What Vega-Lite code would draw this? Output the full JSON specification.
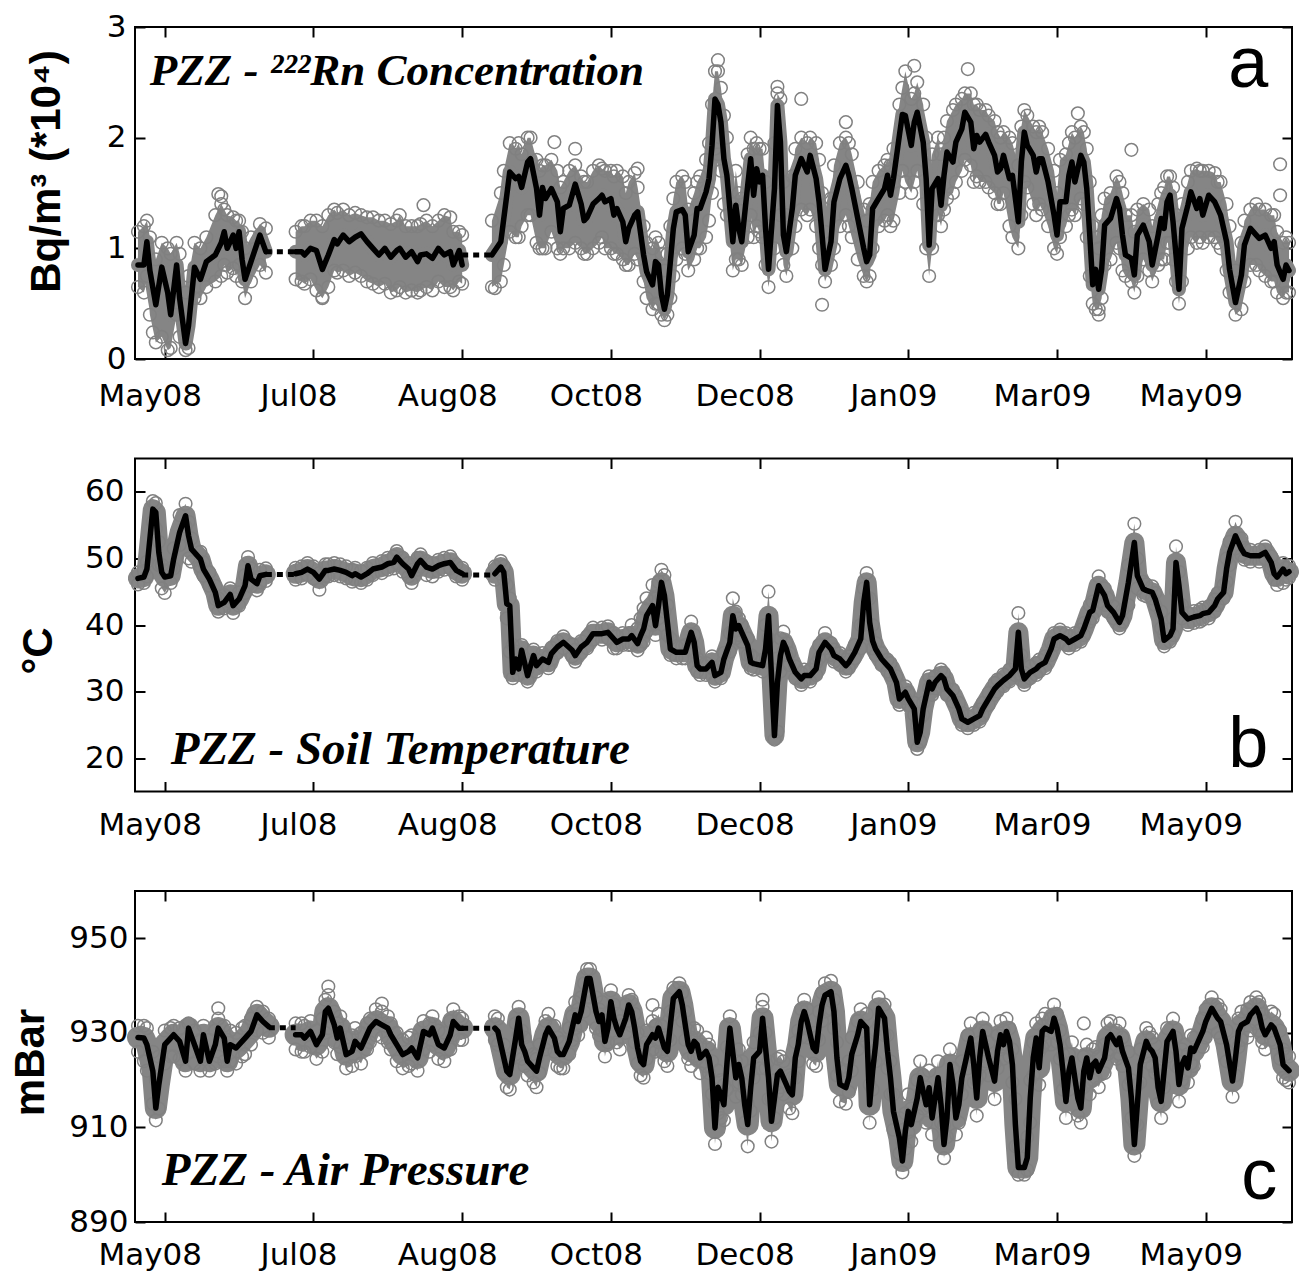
{
"$schema":"https://vega.github.io/schema/vega-lite/v6.json",
"autosize":{"type":"pad"},
"padding":{"left":8,"top":10,"right":0,"bottom":0},
"background":"white",
"spacing":99.5,
"bounds":"flush",
"config":{"view":{"stroke":"black","strokeWidth":2},"axis":{"domain":false,"grid":false,"tickColor":"black","tickWidth":2,"tickSize":-10,"labelColor":"black","labelFont":"DejaVu Sans","labelFontSize":31,"titleColor":"black"}},
"datasets":{
"rn":[
{"s":1,"d":"2008-05-11","v":0.85,"lo":0.65,"hi":1.15},{"s":1,"d":"2008-05-13","v":0.85,"lo":0.6,"hi":1.2},{"s":1,"d":"2008-05-14","v":1.06,"lo":0.75,"hi":1.25},{"s":1,"d":"2008-05-15","v":0.8,"lo":0.4,"hi":1.1},{"s":1,"d":"2008-05-17","v":0.49,"lo":0.15,"hi":0.9},{"s":1,"d":"2008-05-19","v":0.83,"lo":0.2,"hi":1.05},{"s":1,"d":"2008-05-21","v":0.6,"lo":0.08,"hi":1.0},{"s":1,"d":"2008-05-22","v":0.4,"lo":0.1,"hi":0.95},{"s":1,"d":"2008-05-24","v":0.85,"lo":0.4,"hi":1.05},{"s":1,"d":"2008-05-25","v":0.55,"lo":0.2,"hi":0.95},{"s":1,"d":"2008-05-27","v":0.14,"lo":0.08,"hi":0.6},{"s":1,"d":"2008-05-28","v":0.3,"lo":0.1,"hi":0.75},{"s":1,"d":"2008-05-30","v":0.83,"lo":0.55,"hi":1.05},{"s":1,"d":"2008-06-01","v":0.72,"lo":0.55,"hi":1.0},{"s":1,"d":"2008-06-03","v":0.88,"lo":0.65,"hi":1.1},{"s":1,"d":"2008-06-06","v":0.94,"lo":0.7,"hi":1.3},{"s":1,"d":"2008-06-08","v":1.05,"lo":0.75,"hi":1.4},{"s":1,"d":"2008-06-09","v":1.15,"lo":0.85,"hi":1.35},{"s":1,"d":"2008-06-10","v":1.0,"lo":0.78,"hi":1.3},{"s":1,"d":"2008-06-12","v":1.12,"lo":0.82,"hi":1.28},{"s":1,"d":"2008-06-13","v":1.0,"lo":0.75,"hi":1.25},{"s":1,"d":"2008-06-14","v":1.15,"lo":0.85,"hi":1.25},{"s":1,"d":"2008-06-15","v":0.9,"lo":0.7,"hi":1.15},{"s":1,"d":"2008-06-16","v":0.72,"lo":0.55,"hi":1.0},{"s":1,"d":"2008-06-18","v":0.88,"lo":0.7,"hi":1.1},{"s":1,"d":"2008-06-21","v":1.12,"lo":0.85,"hi":1.22},{"s":1,"d":"2008-06-23","v":0.97,"lo":0.78,"hi":1.18},
{"s":2,"d":"2008-07-03","v":0.97,"lo":0.72,"hi":1.15},{"s":2,"d":"2008-07-05","v":0.97,"lo":0.7,"hi":1.2},{"s":2,"d":"2008-07-06","v":0.94,"lo":0.68,"hi":1.2},{"s":2,"d":"2008-07-08","v":1.0,"lo":0.72,"hi":1.25},{"s":2,"d":"2008-07-10","v":0.98,"lo":0.62,"hi":1.25},{"s":2,"d":"2008-07-12","v":0.81,"lo":0.55,"hi":1.2},{"s":2,"d":"2008-07-14","v":0.94,"lo":0.65,"hi":1.3},{"s":2,"d":"2008-07-16","v":1.08,"lo":0.8,"hi":1.35},{"s":2,"d":"2008-07-17","v":1.04,"lo":0.78,"hi":1.32},{"s":2,"d":"2008-07-19","v":1.12,"lo":0.8,"hi":1.35},{"s":2,"d":"2008-07-21","v":1.06,"lo":0.75,"hi":1.3},{"s":2,"d":"2008-07-23","v":1.1,"lo":0.78,"hi":1.32},{"s":2,"d":"2008-07-25","v":1.13,"lo":0.75,"hi":1.3},{"s":2,"d":"2008-07-27","v":1.06,"lo":0.7,"hi":1.28},{"s":2,"d":"2008-07-29","v":1.0,"lo":0.68,"hi":1.28},{"s":2,"d":"2008-07-31","v":0.94,"lo":0.65,"hi":1.25},{"s":2,"d":"2008-08-02","v":1.0,"lo":0.68,"hi":1.25},{"s":2,"d":"2008-08-04","v":0.92,"lo":0.6,"hi":1.22},{"s":2,"d":"2008-08-06","v":0.98,"lo":0.62,"hi":1.25},{"s":2,"d":"2008-08-07","v":1.0,"lo":0.65,"hi":1.3},{"s":2,"d":"2008-08-09","v":0.92,"lo":0.6,"hi":1.2},{"s":2,"d":"2008-08-11","v":0.97,"lo":0.62,"hi":1.2},{"s":2,"d":"2008-08-13","v":0.88,"lo":0.6,"hi":1.2},{"s":2,"d":"2008-08-14","v":0.94,"lo":0.62,"hi":1.22},{"s":2,"d":"2008-08-16","v":0.95,"lo":0.65,"hi":1.25},{"s":2,"d":"2008-08-18","v":0.91,"lo":0.62,"hi":1.2},{"s":2,"d":"2008-08-20","v":1.0,"lo":0.7,"hi":1.25},{"s":2,"d":"2008-08-22","v":0.94,"lo":0.65,"hi":1.3},{"s":2,"d":"2008-08-24","v":0.97,"lo":0.65,"hi":1.28},{"s":2,"d":"2008-08-25","v":0.85,"lo":0.62,"hi":1.15},{"s":2,"d":"2008-08-27","v":0.98,"lo":0.7,"hi":1.15},{"s":2,"d":"2008-08-28","v":0.85,"lo":0.68,"hi":1.12},
{"s":3,"d":"2008-09-07","v":0.94,"lo":0.65,"hi":1.25},{"s":3,"d":"2008-09-10","v":1.06,"lo":0.7,"hi":1.5},{"s":3,"d":"2008-09-11","v":1.27,"lo":0.85,"hi":1.7},{"s":3,"d":"2008-09-13","v":1.69,"lo":1.15,"hi":1.95},{"s":3,"d":"2008-09-15","v":1.63,"lo":1.1,"hi":1.9},{"s":3,"d":"2008-09-16","v":1.65,"lo":1.1,"hi":1.95},{"s":3,"d":"2008-09-17","v":1.55,"lo":1.2,"hi":1.85},{"s":3,"d":"2008-09-19","v":1.78,"lo":1.3,"hi":2.0},{"s":3,"d":"2008-09-20","v":1.81,"lo":1.3,"hi":2.0},{"s":3,"d":"2008-09-22","v":1.54,"lo":1.05,"hi":1.8},{"s":3,"d":"2008-09-23","v":1.3,"lo":1.0,"hi":1.7},{"s":3,"d":"2008-09-24","v":1.55,"lo":1.0,"hi":1.75},{"s":3,"d":"2008-09-25","v":1.45,"lo":1.0,"hi":1.75},{"s":3,"d":"2008-09-27","v":1.54,"lo":1.15,"hi":1.8},{"s":3,"d":"2008-09-29","v":1.42,"lo":1.0,"hi":1.7},{"s":3,"d":"2008-09-30","v":1.15,"lo":0.95,"hi":1.55},{"s":3,"d":"2008-10-01","v":1.36,"lo":1.0,"hi":1.6},{"s":3,"d":"2008-10-03","v":1.39,"lo":1.0,"hi":1.7},{"s":3,"d":"2008-10-05","v":1.58,"lo":1.05,"hi":1.75},{"s":3,"d":"2008-10-07","v":1.4,"lo":1.0,"hi":1.65},{"s":3,"d":"2008-10-08","v":1.25,"lo":0.95,"hi":1.6},{"s":3,"d":"2008-10-09","v":1.28,"lo":0.95,"hi":1.6},{"s":3,"d":"2008-10-11","v":1.4,"lo":1.0,"hi":1.7},{"s":3,"d":"2008-10-13","v":1.45,"lo":1.05,"hi":1.75},{"s":3,"d":"2008-10-14","v":1.48,"lo":1.1,"hi":1.72},{"s":3,"d":"2008-10-15","v":1.42,"lo":1.0,"hi":1.7},{"s":3,"d":"2008-10-17","v":1.45,"lo":1.0,"hi":1.7},{"s":3,"d":"2008-10-18","v":1.3,"lo":0.95,"hi":1.65},{"s":3,"d":"2008-10-19","v":1.36,"lo":0.95,"hi":1.7},{"s":3,"d":"2008-10-21","v":1.24,"lo":0.9,"hi":1.65},{"s":3,"d":"2008-10-22","v":1.06,"lo":0.85,"hi":1.5},{"s":3,"d":"2008-10-23","v":1.18,"lo":0.85,"hi":1.6},{"s":3,"d":"2008-10-25","v":1.3,"lo":0.95,"hi":1.68},{"s":3,"d":"2008-10-26","v":1.33,"lo":0.9,"hi":1.55},{"s":3,"d":"2008-10-28","v":0.94,"lo":0.7,"hi":1.2},{"s":3,"d":"2008-10-29","v":0.79,"lo":0.55,"hi":1.05},{"s":3,"d":"2008-10-31","v":0.67,"lo":0.45,"hi":1.0},{"s":3,"d":"2008-11-01","v":0.88,"lo":0.5,"hi":1.1},{"s":3,"d":"2008-11-02","v":0.85,"lo":0.5,"hi":1.05},{"s":3,"d":"2008-11-03","v":0.58,"lo":0.4,"hi":0.95},{"s":3,"d":"2008-11-04","v":0.45,"lo":0.35,"hi":0.8},{"s":3,"d":"2008-11-05","v":0.58,"lo":0.4,"hi":0.95},{"s":3,"d":"2008-11-06","v":0.88,"lo":0.55,"hi":1.2},{"s":3,"d":"2008-11-07","v":1.18,"lo":0.75,"hi":1.45},{"s":3,"d":"2008-11-08","v":1.33,"lo":0.9,"hi":1.6},{"s":3,"d":"2008-11-10","v":1.35,"lo":1.0,"hi":1.65},{"s":3,"d":"2008-11-11","v":1.3,"lo":0.95,"hi":1.6},{"s":3,"d":"2008-11-12","v":0.97,"lo":0.8,"hi":1.35},{"s":3,"d":"2008-11-14","v":1.12,"lo":0.9,"hi":1.5},{"s":3,"d":"2008-11-15","v":1.36,"lo":1.0,"hi":1.6},{"s":3,"d":"2008-11-16","v":1.36,"lo":1.0,"hi":1.65},{"s":3,"d":"2008-11-18","v":1.51,"lo":1.1,"hi":1.8},{"s":3,"d":"2008-11-19","v":1.63,"lo":1.25,"hi":1.95},{"s":3,"d":"2008-11-20","v":1.93,"lo":1.5,"hi":2.3},{"s":3,"d":"2008-11-21","v":2.35,"lo":1.9,"hi":2.6},{"s":3,"d":"2008-11-22","v":2.3,"lo":1.85,"hi":2.6},{"s":3,"d":"2008-11-23","v":2.14,"lo":1.7,"hi":2.45},{"s":3,"d":"2008-11-24","v":1.81,"lo":1.4,"hi":2.2},{"s":3,"d":"2008-11-25","v":1.66,"lo":1.3,"hi":2.0},{"s":3,"d":"2008-11-27","v":1.06,"lo":0.8,"hi":1.4},{"s":3,"d":"2008-11-28","v":1.39,"lo":0.9,"hi":1.7},{"s":3,"d":"2008-11-29","v":1.18,"lo":0.9,"hi":1.5},{"s":3,"d":"2008-11-30","v":1.06,"lo":0.85,"hi":1.45},{"s":3,"d":"2008-12-02","v":1.57,"lo":1.1,"hi":1.85},{"s":3,"d":"2008-12-03","v":1.81,"lo":1.3,"hi":2.0},{"s":3,"d":"2008-12-04","v":1.48,"lo":1.1,"hi":1.9},{"s":3,"d":"2008-12-05","v":1.72,"lo":1.2,"hi":1.95},{"s":3,"d":"2008-12-06","v":1.6,"lo":1.15,"hi":1.9},{"s":3,"d":"2008-12-07","v":1.66,"lo":1.1,"hi":1.9},{"s":3,"d":"2008-12-08","v":1.18,"lo":0.85,"hi":1.6},{"s":3,"d":"2008-12-09","v":0.81,"lo":0.65,"hi":1.2},{"s":3,"d":"2008-12-11","v":1.54,"lo":1.0,"hi":1.95},{"s":3,"d":"2008-12-12","v":2.29,"lo":1.6,"hi":2.4},{"s":3,"d":"2008-12-13","v":1.96,"lo":1.3,"hi":2.35},{"s":3,"d":"2008-12-14","v":1.12,"lo":0.85,"hi":1.6},{"s":3,"d":"2008-12-15","v":0.97,"lo":0.75,"hi":1.3},{"s":3,"d":"2008-12-17","v":1.36,"lo":1.0,"hi":1.65},{"s":3,"d":"2008-12-18","v":1.66,"lo":1.2,"hi":1.9},{"s":3,"d":"2008-12-20","v":1.81,"lo":1.35,"hi":2.0},{"s":3,"d":"2008-12-22","v":1.69,"lo":1.3,"hi":1.95},{"s":3,"d":"2008-12-23","v":1.84,"lo":1.35,"hi":2.0},{"s":3,"d":"2008-12-25","v":1.63,"lo":1.2,"hi":1.95},{"s":3,"d":"2008-12-26","v":1.42,"lo":1.0,"hi":1.8},{"s":3,"d":"2008-12-27","v":1.12,"lo":0.85,"hi":1.5},{"s":3,"d":"2008-12-28","v":0.81,"lo":0.7,"hi":1.15},{"s":3,"d":"2008-12-30","v":1.06,"lo":0.85,"hi":1.45},{"s":3,"d":"2008-12-31","v":1.42,"lo":1.0,"hi":1.75},{"s":3,"d":"2009-01-02","v":1.63,"lo":1.2,"hi":1.95},{"s":3,"d":"2009-01-04","v":1.75,"lo":1.3,"hi":2.0},{"s":3,"d":"2009-01-05","v":1.66,"lo":1.2,"hi":1.95},{"s":3,"d":"2009-01-06","v":1.54,"lo":1.1,"hi":1.85},{"s":3,"d":"2009-01-08","v":1.27,"lo":0.9,"hi":1.6},{"s":3,"d":"2009-01-10","v":1.0,"lo":0.75,"hi":1.35},{"s":3,"d":"2009-01-11","v":0.88,"lo":0.7,"hi":1.25},{"s":3,"d":"2009-01-12","v":0.94,"lo":0.75,"hi":1.4},{"s":3,"d":"2009-01-13","v":1.36,"lo":1.0,"hi":1.6},{"s":3,"d":"2009-01-15","v":1.45,"lo":1.2,"hi":1.7},{"s":3,"d":"2009-01-17","v":1.54,"lo":1.25,"hi":1.75},{"s":3,"d":"2009-01-18","v":1.66,"lo":1.3,"hi":1.8},{"s":3,"d":"2009-01-19","v":1.48,"lo":1.2,"hi":1.75},{"s":3,"d":"2009-01-20","v":1.63,"lo":1.25,"hi":1.9},{"s":3,"d":"2009-01-22","v":2.02,"lo":1.5,"hi":2.3},{"s":3,"d":"2009-01-23","v":2.21,"lo":1.7,"hi":2.45},{"s":3,"d":"2009-01-24","v":2.2,"lo":1.6,"hi":2.6},{"s":3,"d":"2009-01-26","v":1.93,"lo":1.5,"hi":2.35},{"s":3,"d":"2009-01-27","v":2.14,"lo":1.6,"hi":2.4},{"s":3,"d":"2009-01-28","v":2.23,"lo":1.7,"hi":2.5},{"s":3,"d":"2009-01-30","v":1.96,"lo":1.4,"hi":2.3},{"s":3,"d":"2009-01-31","v":1.63,"lo":1.0,"hi":2.0},{"s":3,"d":"2009-02-01","v":1.03,"lo":0.75,"hi":1.5},{"s":3,"d":"2009-02-02","v":1.54,"lo":1.0,"hi":1.85},{"s":3,"d":"2009-02-04","v":1.63,"lo":1.3,"hi":2.0},{"s":3,"d":"2009-02-05","v":1.39,"lo":1.2,"hi":1.85},{"s":3,"d":"2009-02-06","v":1.66,"lo":1.35,"hi":2.0},{"s":3,"d":"2009-02-07","v":1.87,"lo":1.45,"hi":2.15},{"s":3,"d":"2009-02-09","v":1.78,"lo":1.5,"hi":2.25},{"s":3,"d":"2009-02-10","v":1.96,"lo":1.6,"hi":2.3},{"s":3,"d":"2009-02-12","v":2.08,"lo":1.7,"hi":2.35},{"s":3,"d":"2009-02-13","v":2.23,"lo":1.8,"hi":2.4},{"s":3,"d":"2009-02-15","v":2.14,"lo":1.75,"hi":2.4},{"s":3,"d":"2009-02-16","v":1.9,"lo":1.6,"hi":2.3},{"s":3,"d":"2009-02-17","v":2.02,"lo":1.65,"hi":2.3},{"s":3,"d":"2009-02-18","v":1.96,"lo":1.6,"hi":2.25},{"s":3,"d":"2009-02-20","v":2.03,"lo":1.6,"hi":2.25},{"s":3,"d":"2009-02-21","v":1.96,"lo":1.55,"hi":2.2},{"s":3,"d":"2009-02-23","v":1.84,"lo":1.5,"hi":2.15},{"s":3,"d":"2009-02-24","v":1.69,"lo":1.4,"hi":2.05},{"s":3,"d":"2009-02-25","v":1.72,"lo":1.4,"hi":2.0},{"s":3,"d":"2009-02-26","v":1.84,"lo":1.5,"hi":2.05},{"s":3,"d":"2009-02-28","v":1.63,"lo":1.2,"hi":2.0},{"s":3,"d":"2009-03-01","v":1.66,"lo":1.1,"hi":1.95},{"s":3,"d":"2009-03-03","v":1.24,"lo":1.0,"hi":1.75},{"s":3,"d":"2009-03-04","v":1.78,"lo":1.3,"hi":2.1},{"s":3,"d":"2009-03-05","v":2.05,"lo":1.6,"hi":2.25},{"s":3,"d":"2009-03-06","v":1.93,"lo":1.55,"hi":2.2},{"s":3,"d":"2009-03-08","v":1.84,"lo":1.4,"hi":2.1},{"s":3,"d":"2009-03-09","v":1.69,"lo":1.3,"hi":2.05},{"s":3,"d":"2009-03-10","v":1.81,"lo":1.4,"hi":2.1},{"s":3,"d":"2009-03-11","v":1.81,"lo":1.35,"hi":2.05},{"s":3,"d":"2009-03-13","v":1.6,"lo":1.2,"hi":1.9},{"s":3,"d":"2009-03-15","v":1.3,"lo":1.0,"hi":1.7},{"s":3,"d":"2009-03-16","v":1.12,"lo":0.95,"hi":1.5},{"s":3,"d":"2009-03-17","v":1.42,"lo":1.1,"hi":1.8},{"s":3,"d":"2009-03-19","v":1.42,"lo":1.2,"hi":1.85},{"s":3,"d":"2009-03-20","v":1.66,"lo":1.3,"hi":1.95},{"s":3,"d":"2009-03-21","v":1.78,"lo":1.35,"hi":2.05},{"s":3,"d":"2009-03-22","v":1.6,"lo":1.3,"hi":2.0},{"s":3,"d":"2009-03-24","v":1.84,"lo":1.45,"hi":2.1},{"s":3,"d":"2009-03-25","v":1.78,"lo":1.4,"hi":2.05},{"s":3,"d":"2009-03-26","v":1.54,"lo":1.1,"hi":1.9},{"s":3,"d":"2009-03-27","v":1.12,"lo":0.75,"hi":1.6},{"s":3,"d":"2009-03-28","v":0.67,"lo":0.5,"hi":1.2},{"s":3,"d":"2009-03-29","v":0.81,"lo":0.45,"hi":1.1},{"s":3,"d":"2009-03-30","v":0.63,"lo":0.45,"hi":1.0},{"s":3,"d":"2009-03-31","v":0.81,"lo":0.55,"hi":1.3},{"s":3,"d":"2009-04-01","v":1.21,"lo":0.85,"hi":1.45},{"s":3,"d":"2009-04-03","v":1.27,"lo":0.9,"hi":1.5},{"s":3,"d":"2009-04-05","v":1.45,"lo":1.05,"hi":1.65},{"s":3,"d":"2009-04-06","v":1.36,"lo":1.0,"hi":1.6},{"s":3,"d":"2009-04-07","v":1.12,"lo":0.8,"hi":1.5},{"s":3,"d":"2009-04-08","v":0.94,"lo":0.75,"hi":1.3},{"s":3,"d":"2009-04-10","v":0.91,"lo":0.7,"hi":1.3},{"s":3,"d":"2009-04-11","v":0.76,"lo":0.6,"hi":1.15},{"s":3,"d":"2009-04-12","v":1.12,"lo":0.75,"hi":1.35},{"s":3,"d":"2009-04-14","v":1.21,"lo":0.9,"hi":1.4},{"s":3,"d":"2009-04-16","v":1.06,"lo":0.8,"hi":1.35},{"s":3,"d":"2009-04-17","v":0.85,"lo":0.7,"hi":1.2},{"s":3,"d":"2009-04-19","v":1.12,"lo":0.85,"hi":1.4},{"s":3,"d":"2009-04-20","v":1.27,"lo":0.9,"hi":1.5},{"s":3,"d":"2009-04-21","v":1.18,"lo":0.9,"hi":1.55},{"s":3,"d":"2009-04-22","v":1.42,"lo":1.05,"hi":1.65},{"s":3,"d":"2009-04-23","v":1.48,"lo":1.05,"hi":1.65},{"s":3,"d":"2009-04-24","v":1.24,"lo":0.9,"hi":1.55},{"s":3,"d":"2009-04-25","v":0.94,"lo":0.7,"hi":1.3},{"s":3,"d":"2009-04-26","v":0.63,"lo":0.5,"hi":1.05},{"s":3,"d":"2009-04-27","v":1.18,"lo":0.7,"hi":1.4},{"s":3,"d":"2009-04-29","v":1.39,"lo":1.0,"hi":1.6},{"s":3,"d":"2009-04-30","v":1.51,"lo":1.1,"hi":1.7},{"s":3,"d":"2009-05-02","v":1.36,"lo":1.05,"hi":1.72},{"s":3,"d":"2009-05-03","v":1.45,"lo":1.1,"hi":1.7},{"s":3,"d":"2009-05-04","v":1.3,"lo":1.05,"hi":1.7},{"s":3,"d":"2009-05-06","v":1.48,"lo":1.1,"hi":1.7},{"s":3,"d":"2009-05-08","v":1.42,"lo":1.1,"hi":1.68},{"s":3,"d":"2009-05-09","v":1.36,"lo":1.05,"hi":1.6},{"s":3,"d":"2009-05-10","v":1.3,"lo":1.0,"hi":1.6},{"s":3,"d":"2009-05-12","v":1.06,"lo":0.8,"hi":1.4},{"s":3,"d":"2009-05-13","v":0.81,"lo":0.6,"hi":1.2},{"s":3,"d":"2009-05-15","v":0.51,"lo":0.4,"hi":0.8},{"s":3,"d":"2009-05-17","v":0.76,"lo":0.45,"hi":1.05},{"s":3,"d":"2009-05-18","v":1.03,"lo":0.7,"hi":1.25},{"s":3,"d":"2009-05-20","v":1.18,"lo":0.85,"hi":1.35},{"s":3,"d":"2009-05-22","v":1.12,"lo":0.85,"hi":1.4},{"s":3,"d":"2009-05-23","v":1.09,"lo":0.8,"hi":1.35},{"s":3,"d":"2009-05-25","v":1.12,"lo":0.75,"hi":1.35},{"s":3,"d":"2009-05-27","v":1.0,"lo":0.7,"hi":1.3},{"s":3,"d":"2009-05-28","v":1.06,"lo":0.7,"hi":1.3},{"s":3,"d":"2009-05-29","v":0.85,"lo":0.6,"hi":1.15},{"s":3,"d":"2009-05-31","v":0.72,"lo":0.55,"hi":1.05},{"s":3,"d":"2009-06-01","v":0.85,"lo":0.6,"hi":1.1},{"s":3,"d":"2009-06-02","v":0.8,"lo":0.6,"hi":1.05}
],
"rnOut":[{"d":"2009-02-14","v":2.62},{"d":"2009-04-10","v":1.89},{"d":"2009-05-30","v":1.76},{"d":"2009-05-30","v":1.48},{"d":"2009-03-23","v":2.22},{"d":"2009-03-30","v":0.4},{"d":"2008-12-20","v":2.35},{"d":"2008-12-27","v":0.49},{"d":"2008-09-08","v":0.64},{"d":"2008-09-28","v":1.96},{"d":"2008-10-05","v":1.9},{"d":"2008-10-26","v":1.72},{"d":"2008-11-22","v":2.7},{"d":"2008-12-12","v":2.46},{"d":"2009-01-04","v":2.14},{"d":"2009-01-27","v":2.65},{"d":"2008-06-07","v":1.49},{"d":"2008-06-08","v":1.47},{"d":"2008-07-12","v":0.56},{"d":"2008-08-15","v":1.39},{"d":"2008-05-16","v":0.24}],
"tp":[
{"s":1,"d":"2008-05-11","v":47.0,"lo":46.1,"hi":47.9},{"s":1,"d":"2008-05-13","v":47.2,"lo":46.3,"hi":48.1},{"s":1,"d":"2008-05-14","v":48.4,"lo":47.3,"hi":49.5},{"s":1,"d":"2008-05-16","v":57.4,"lo":55.5,"hi":58.6},{"s":1,"d":"2008-05-17","v":56.9,"lo":54.5,"hi":58.3},{"s":1,"d":"2008-05-18","v":50.9,"lo":49.0,"hi":52.5},{"s":1,"d":"2008-05-19","v":47.9,"lo":45.5,"hi":49.0},{"s":1,"d":"2008-05-20","v":47.2,"lo":44.8,"hi":48.1},{"s":1,"d":"2008-05-22","v":47.4,"lo":46.3,"hi":48.5},{"s":1,"d":"2008-05-23","v":49.9,"lo":48.5,"hi":51.5},{"s":1,"d":"2008-05-25","v":53.9,"lo":52.0,"hi":56.5},{"s":1,"d":"2008-05-27","v":56.4,"lo":54.8,"hi":58.2},{"s":1,"d":"2008-05-28","v":53.4,"lo":50.0,"hi":55.5},{"s":1,"d":"2008-05-29","v":51.4,"lo":49.5,"hi":53.0},{"s":1,"d":"2008-06-01","v":49.9,"lo":48.8,"hi":51.0},{"s":1,"d":"2008-06-02","v":48.4,"lo":47.4,"hi":49.4},{"s":1,"d":"2008-06-04","v":46.9,"lo":45.9,"hi":47.9},{"s":1,"d":"2008-06-06","v":44.9,"lo":43.9,"hi":45.9},{"s":1,"d":"2008-06-07","v":42.9,"lo":42.0,"hi":44.0},{"s":1,"d":"2008-06-09","v":43.4,"lo":42.5,"hi":44.5},{"s":1,"d":"2008-06-11","v":44.6,"lo":43.5,"hi":45.5},{"s":1,"d":"2008-06-12","v":42.9,"lo":41.8,"hi":44.0},{"s":1,"d":"2008-06-14","v":43.9,"lo":42.9,"hi":44.9},{"s":1,"d":"2008-06-16","v":45.9,"lo":44.8,"hi":47.5},{"s":1,"d":"2008-06-17","v":48.9,"lo":46.0,"hi":50.2},{"s":1,"d":"2008-06-18","v":46.9,"lo":45.8,"hi":48.5},{"s":1,"d":"2008-06-20","v":46.2,"lo":45.2,"hi":47.2},{"s":1,"d":"2008-06-21","v":47.4,"lo":46.4,"hi":48.3},{"s":1,"d":"2008-06-23","v":47.6,"lo":46.6,"hi":48.5},
{"s":2,"d":"2008-07-03","v":47.7,"lo":46.8,"hi":48.6},{"s":2,"d":"2008-07-05","v":47.9,"lo":47.0,"hi":48.8},{"s":2,"d":"2008-07-07","v":48.4,"lo":47.5,"hi":49.3},{"s":2,"d":"2008-07-09","v":47.9,"lo":47.0,"hi":48.8},{"s":2,"d":"2008-07-11","v":46.9,"lo":45.3,"hi":47.8},{"s":2,"d":"2008-07-13","v":48.2,"lo":47.3,"hi":49.1},{"s":2,"d":"2008-07-14","v":48.2,"lo":47.3,"hi":49.1},{"s":2,"d":"2008-07-16","v":48.4,"lo":47.5,"hi":49.3},{"s":2,"d":"2008-07-18","v":48.2,"lo":47.3,"hi":49.1},{"s":2,"d":"2008-07-20","v":47.9,"lo":47.0,"hi":48.8},{"s":2,"d":"2008-07-22","v":47.4,"lo":46.5,"hi":48.3},{"s":2,"d":"2008-07-23","v":47.7,"lo":46.8,"hi":48.6},{"s":2,"d":"2008-07-25","v":47.2,"lo":46.3,"hi":48.1},{"s":2,"d":"2008-07-27","v":47.7,"lo":46.8,"hi":48.6},{"s":2,"d":"2008-07-29","v":48.4,"lo":47.5,"hi":49.3},{"s":2,"d":"2008-08-01","v":48.7,"lo":47.8,"hi":49.6},{"s":2,"d":"2008-08-03","v":49.2,"lo":48.3,"hi":50.1},{"s":2,"d":"2008-08-05","v":49.4,"lo":48.5,"hi":50.3},{"s":2,"d":"2008-08-06","v":50.2,"lo":49.3,"hi":51.1},{"s":2,"d":"2008-08-08","v":49.2,"lo":48.0,"hi":50.1},{"s":2,"d":"2008-08-10","v":48.4,"lo":47.3,"hi":49.3},{"s":2,"d":"2008-08-11","v":47.4,"lo":46.3,"hi":48.3},{"s":2,"d":"2008-08-13","v":49.2,"lo":48.3,"hi":50.1},{"s":2,"d":"2008-08-14","v":49.7,"lo":48.8,"hi":50.6},{"s":2,"d":"2008-08-16","v":48.7,"lo":47.5,"hi":49.6},{"s":2,"d":"2008-08-18","v":48.4,"lo":47.3,"hi":49.3},{"s":2,"d":"2008-08-20","v":48.9,"lo":48.0,"hi":49.8},{"s":2,"d":"2008-08-22","v":49.2,"lo":48.3,"hi":50.1},{"s":2,"d":"2008-08-24","v":49.4,"lo":48.5,"hi":50.3},{"s":2,"d":"2008-08-26","v":48.2,"lo":47.3,"hi":49.1},{"s":2,"d":"2008-08-28","v":47.7,"lo":46.8,"hi":48.6},
{"s":3,"d":"2008-09-08","v":47.7,"lo":46.8,"hi":48.8},{"s":3,"d":"2008-09-10","v":48.7,"lo":47.7,"hi":49.6},{"s":3,"d":"2008-09-11","v":47.9,"lo":46.9,"hi":48.8},{"s":3,"d":"2008-09-12","v":43.2,"lo":41.0,"hi":46.0},{"s":3,"d":"2008-09-13","v":42.9,"lo":36.0,"hi":44.0},{"s":3,"d":"2008-09-14","v":32.9,"lo":32.0,"hi":37.0},{"s":3,"d":"2008-09-15","v":34.9,"lo":33.5,"hi":36.0},{"s":3,"d":"2008-09-16","v":33.4,"lo":32.5,"hi":34.5},{"s":3,"d":"2008-09-17","v":36.2,"lo":35.2,"hi":37.0},{"s":3,"d":"2008-09-19","v":32.4,"lo":31.5,"hi":33.3},{"s":3,"d":"2008-09-21","v":35.4,"lo":34.5,"hi":36.3},{"s":3,"d":"2008-09-22","v":33.9,"lo":33.0,"hi":34.8},{"s":3,"d":"2008-09-24","v":34.9,"lo":34.0,"hi":35.8},{"s":3,"d":"2008-09-26","v":34.4,"lo":33.5,"hi":35.3},{"s":3,"d":"2008-09-27","v":35.7,"lo":34.8,"hi":36.6},{"s":3,"d":"2008-09-29","v":36.7,"lo":35.8,"hi":37.6},{"s":3,"d":"2008-10-01","v":37.4,"lo":36.5,"hi":38.3},{"s":3,"d":"2008-10-04","v":36.2,"lo":35.3,"hi":37.1},{"s":3,"d":"2008-10-05","v":35.4,"lo":34.5,"hi":36.3},{"s":3,"d":"2008-10-07","v":36.7,"lo":35.8,"hi":37.6},{"s":3,"d":"2008-10-09","v":37.4,"lo":36.5,"hi":38.3},{"s":3,"d":"2008-10-11","v":38.7,"lo":37.8,"hi":39.6},{"s":3,"d":"2008-10-14","v":38.7,"lo":37.8,"hi":39.6},{"s":3,"d":"2008-10-16","v":38.9,"lo":38.0,"hi":39.8},{"s":3,"d":"2008-10-18","v":37.9,"lo":36.5,"hi":38.8},{"s":3,"d":"2008-10-19","v":37.4,"lo":36.5,"hi":38.3},{"s":3,"d":"2008-10-21","v":37.9,"lo":37.0,"hi":38.8},{"s":3,"d":"2008-10-23","v":37.9,"lo":37.0,"hi":38.8},{"s":3,"d":"2008-10-24","v":38.4,"lo":37.0,"hi":40.0},{"s":3,"d":"2008-10-26","v":37.2,"lo":36.2,"hi":39.5},{"s":3,"d":"2008-10-27","v":38.4,"lo":37.0,"hi":41.0},{"s":3,"d":"2008-10-28","v":39.4,"lo":37.5,"hi":42.5},{"s":3,"d":"2008-10-29","v":41.4,"lo":39.0,"hi":44.0},{"s":3,"d":"2008-10-31","v":42.9,"lo":40.0,"hi":46.0},{"s":3,"d":"2008-11-01","v":39.9,"lo":38.5,"hi":44.0},{"s":3,"d":"2008-11-02","v":42.9,"lo":41.0,"hi":46.5},{"s":3,"d":"2008-11-03","v":46.4,"lo":44.0,"hi":48.3},{"s":3,"d":"2008-11-04","v":44.4,"lo":42.0,"hi":47.5},{"s":3,"d":"2008-11-05","v":40.4,"lo":38.5,"hi":43.0},{"s":3,"d":"2008-11-06","v":36.4,"lo":35.5,"hi":38.0},{"s":3,"d":"2008-11-08","v":35.9,"lo":35.0,"hi":36.8},{"s":3,"d":"2008-11-10","v":35.9,"lo":35.0,"hi":36.8},{"s":3,"d":"2008-11-11","v":35.9,"lo":35.0,"hi":37.0},{"s":3,"d":"2008-11-13","v":38.9,"lo":37.5,"hi":40.5},{"s":3,"d":"2008-11-14","v":37.4,"lo":36.0,"hi":38.5},{"s":3,"d":"2008-11-15","v":33.9,"lo":33.0,"hi":35.0},{"s":3,"d":"2008-11-16","v":33.4,"lo":32.5,"hi":34.3},{"s":3,"d":"2008-11-18","v":33.4,"lo":32.5,"hi":34.3},{"s":3,"d":"2008-11-20","v":34.4,"lo":33.5,"hi":35.3},{"s":3,"d":"2008-11-21","v":32.4,"lo":31.5,"hi":33.3},{"s":3,"d":"2008-11-23","v":32.9,"lo":32.0,"hi":33.8},{"s":3,"d":"2008-11-24","v":34.9,"lo":34.0,"hi":35.8},{"s":3,"d":"2008-11-26","v":37.4,"lo":36.0,"hi":38.8},{"s":3,"d":"2008-11-27","v":41.4,"lo":39.0,"hi":44.0},{"s":3,"d":"2008-11-28","v":39.4,"lo":38.0,"hi":42.0},{"s":3,"d":"2008-11-29","v":39.9,"lo":38.5,"hi":41.0},{"s":3,"d":"2008-11-30","v":38.9,"lo":37.5,"hi":40.0},{"s":3,"d":"2008-12-02","v":36.9,"lo":35.5,"hi":38.0},{"s":3,"d":"2008-12-03","v":34.4,"lo":33.5,"hi":35.5},{"s":3,"d":"2008-12-04","v":34.2,"lo":33.3,"hi":35.1},{"s":3,"d":"2008-12-07","v":33.9,"lo":33.0,"hi":34.8},{"s":3,"d":"2008-12-08","v":36.4,"lo":34.5,"hi":40.0},{"s":3,"d":"2008-12-09","v":41.4,"lo":38.0,"hi":45.0},{"s":3,"d":"2008-12-11","v":23.4,"lo":22.8,"hi":32.0},{"s":3,"d":"2008-12-12","v":31.4,"lo":24.0,"hi":35.0},{"s":3,"d":"2008-12-13","v":35.4,"lo":33.0,"hi":38.0},{"s":3,"d":"2008-12-14","v":37.4,"lo":36.0,"hi":39.0},{"s":3,"d":"2008-12-15","v":36.4,"lo":35.5,"hi":37.3},{"s":3,"d":"2008-12-16","v":34.9,"lo":34.0,"hi":35.8},{"s":3,"d":"2008-12-18","v":32.9,"lo":32.0,"hi":33.8},{"s":3,"d":"2008-12-20","v":31.9,"lo":31.0,"hi":32.8},{"s":3,"d":"2008-12-21","v":32.4,"lo":31.5,"hi":33.3},{"s":3,"d":"2008-12-23","v":32.4,"lo":31.5,"hi":33.3},{"s":3,"d":"2008-12-25","v":33.4,"lo":32.5,"hi":34.3},{"s":3,"d":"2008-12-26","v":35.9,"lo":35.0,"hi":37.0},{"s":3,"d":"2008-12-28","v":37.4,"lo":36.5,"hi":38.8},{"s":3,"d":"2008-12-30","v":36.4,"lo":35.5,"hi":37.3},{"s":3,"d":"2008-12-31","v":35.4,"lo":34.5,"hi":36.3},{"s":3,"d":"2009-01-02","v":34.9,"lo":34.0,"hi":35.8},{"s":3,"d":"2009-01-04","v":33.9,"lo":33.0,"hi":34.8},{"s":3,"d":"2009-01-05","v":34.4,"lo":33.5,"hi":35.3},{"s":3,"d":"2009-01-07","v":35.9,"lo":35.0,"hi":37.0},{"s":3,"d":"2009-01-09","v":37.9,"lo":36.5,"hi":40.0},{"s":3,"d":"2009-01-10","v":43.4,"lo":40.0,"hi":45.5},{"s":3,"d":"2009-01-11","v":46.4,"lo":44.0,"hi":47.8},{"s":3,"d":"2009-01-12","v":40.4,"lo":38.5,"hi":44.0},{"s":3,"d":"2009-01-13","v":37.6,"lo":36.5,"hi":40.0},{"s":3,"d":"2009-01-14","v":36.4,"lo":35.5,"hi":37.3},{"s":3,"d":"2009-01-16","v":34.9,"lo":34.0,"hi":35.8},{"s":3,"d":"2009-01-18","v":33.9,"lo":33.0,"hi":34.8},{"s":3,"d":"2009-01-19","v":33.4,"lo":32.5,"hi":34.3},{"s":3,"d":"2009-01-21","v":31.4,"lo":30.5,"hi":32.3},{"s":3,"d":"2009-01-22","v":28.9,"lo":28.0,"hi":29.8},{"s":3,"d":"2009-01-24","v":29.9,"lo":29.0,"hi":30.8},{"s":3,"d":"2009-01-25","v":28.9,"lo":28.0,"hi":29.8},{"s":3,"d":"2009-01-27","v":27.4,"lo":26.5,"hi":28.3},{"s":3,"d":"2009-01-28","v":22.4,"lo":21.4,"hi":25.0},{"s":3,"d":"2009-01-29","v":23.9,"lo":22.5,"hi":26.0},{"s":3,"d":"2009-01-30","v":27.4,"lo":26.5,"hi":28.3},{"s":3,"d":"2009-02-01","v":31.4,"lo":30.5,"hi":32.3},{"s":3,"d":"2009-02-02","v":30.4,"lo":29.5,"hi":31.3},{"s":3,"d":"2009-02-03","v":31.4,"lo":30.5,"hi":32.3},{"s":3,"d":"2009-02-05","v":32.4,"lo":31.5,"hi":33.3},{"s":3,"d":"2009-02-06","v":31.9,"lo":31.0,"hi":32.8},{"s":3,"d":"2009-02-07","v":30.4,"lo":29.5,"hi":31.3},{"s":3,"d":"2009-02-09","v":29.4,"lo":28.5,"hi":30.3},{"s":3,"d":"2009-02-11","v":27.4,"lo":26.5,"hi":28.3},{"s":3,"d":"2009-02-12","v":25.9,"lo":25.0,"hi":26.8},{"s":3,"d":"2009-02-14","v":25.4,"lo":24.5,"hi":26.3},{"s":3,"d":"2009-02-16","v":25.9,"lo":25.0,"hi":26.8},{"s":3,"d":"2009-02-18","v":26.4,"lo":25.5,"hi":27.3},{"s":3,"d":"2009-02-19","v":27.4,"lo":26.5,"hi":28.3},{"s":3,"d":"2009-02-21","v":28.9,"lo":28.0,"hi":29.8},{"s":3,"d":"2009-02-23","v":30.4,"lo":29.5,"hi":31.3},{"s":3,"d":"2009-02-24","v":30.9,"lo":30.0,"hi":31.8},{"s":3,"d":"2009-02-26","v":31.7,"lo":30.8,"hi":32.6},{"s":3,"d":"2009-02-28","v":32.4,"lo":31.5,"hi":33.3},{"s":3,"d":"2009-03-02","v":33.4,"lo":32.5,"hi":34.3},{"s":3,"d":"2009-03-03","v":38.9,"lo":35.0,"hi":41.8},{"s":3,"d":"2009-03-04","v":33.4,"lo":32.5,"hi":35.5},{"s":3,"d":"2009-03-05","v":31.9,"lo":31.0,"hi":32.8},{"s":3,"d":"2009-03-07","v":32.9,"lo":32.0,"hi":33.8},{"s":3,"d":"2009-03-09","v":33.4,"lo":32.5,"hi":34.3},{"s":3,"d":"2009-03-10","v":33.9,"lo":33.0,"hi":34.8},{"s":3,"d":"2009-03-12","v":34.4,"lo":33.5,"hi":35.3},{"s":3,"d":"2009-03-14","v":36.4,"lo":35.5,"hi":37.3},{"s":3,"d":"2009-03-15","v":37.9,"lo":37.0,"hi":38.8},{"s":3,"d":"2009-03-17","v":38.4,"lo":37.5,"hi":39.3},{"s":3,"d":"2009-03-19","v":37.9,"lo":37.0,"hi":38.8},{"s":3,"d":"2009-03-20","v":37.4,"lo":36.5,"hi":38.3},{"s":3,"d":"2009-03-22","v":37.9,"lo":37.0,"hi":38.8},{"s":3,"d":"2009-03-24","v":38.4,"lo":37.5,"hi":39.3},{"s":3,"d":"2009-03-25","v":39.4,"lo":38.5,"hi":40.3},{"s":3,"d":"2009-03-27","v":41.9,"lo":40.5,"hi":43.0},{"s":3,"d":"2009-03-28","v":42.2,"lo":41.0,"hi":43.5},{"s":3,"d":"2009-03-30","v":45.9,"lo":43.5,"hi":47.3},{"s":3,"d":"2009-04-01","v":44.4,"lo":43.0,"hi":45.5},{"s":3,"d":"2009-04-02","v":42.9,"lo":42.0,"hi":44.0},{"s":3,"d":"2009-04-04","v":41.9,"lo":41.0,"hi":42.8},{"s":3,"d":"2009-04-06","v":40.4,"lo":39.5,"hi":41.3},{"s":3,"d":"2009-04-07","v":41.4,"lo":40.5,"hi":42.3},{"s":3,"d":"2009-04-09","v":46.4,"lo":43.0,"hi":49.0},{"s":3,"d":"2009-04-11","v":52.4,"lo":48.0,"hi":55.2},{"s":3,"d":"2009-04-12","v":47.4,"lo":45.5,"hi":50.0},{"s":3,"d":"2009-04-14","v":45.4,"lo":44.5,"hi":46.5},{"s":3,"d":"2009-04-15","v":45.2,"lo":44.3,"hi":46.1},{"s":3,"d":"2009-04-17","v":44.9,"lo":44.0,"hi":45.8},{"s":3,"d":"2009-04-18","v":43.9,"lo":43.0,"hi":44.8},{"s":3,"d":"2009-04-20","v":40.9,"lo":39.5,"hi":42.0},{"s":3,"d":"2009-04-21","v":37.7,"lo":36.8,"hi":38.6},{"s":3,"d":"2009-04-23","v":38.4,"lo":37.5,"hi":39.3},{"s":3,"d":"2009-04-24","v":39.4,"lo":38.5,"hi":41.0},{"s":3,"d":"2009-04-25","v":49.4,"lo":45.0,"hi":51.8},{"s":3,"d":"2009-04-26","v":45.9,"lo":43.0,"hi":48.0},{"s":3,"d":"2009-04-27","v":41.9,"lo":41.0,"hi":43.0},{"s":3,"d":"2009-04-29","v":40.9,"lo":40.0,"hi":41.8},{"s":3,"d":"2009-05-01","v":41.2,"lo":40.3,"hi":42.1},{"s":3,"d":"2009-05-03","v":41.4,"lo":40.5,"hi":42.3},{"s":3,"d":"2009-05-04","v":41.7,"lo":40.8,"hi":42.6},{"s":3,"d":"2009-05-06","v":41.9,"lo":41.0,"hi":42.8},{"s":3,"d":"2009-05-08","v":42.9,"lo":42.0,"hi":43.8},{"s":3,"d":"2009-05-09","v":43.9,"lo":43.0,"hi":44.8},{"s":3,"d":"2009-05-11","v":44.9,"lo":44.0,"hi":46.0},{"s":3,"d":"2009-05-12","v":48.4,"lo":46.5,"hi":50.0},{"s":3,"d":"2009-05-13","v":50.9,"lo":49.0,"hi":52.5},{"s":3,"d":"2009-05-15","v":53.4,"lo":51.5,"hi":55.5},{"s":3,"d":"2009-05-17","v":51.4,"lo":50.5,"hi":53.0},{"s":3,"d":"2009-05-18","v":50.7,"lo":49.8,"hi":51.6},{"s":3,"d":"2009-05-20","v":50.4,"lo":49.5,"hi":51.3},{"s":3,"d":"2009-05-23","v":50.4,"lo":49.5,"hi":51.3},{"s":3,"d":"2009-05-25","v":50.9,"lo":50.0,"hi":51.8},{"s":3,"d":"2009-05-27","v":49.4,"lo":48.5,"hi":50.3},{"s":3,"d":"2009-05-28","v":47.7,"lo":46.8,"hi":48.6},{"s":3,"d":"2009-05-29","v":47.2,"lo":46.0,"hi":48.1},{"s":3,"d":"2009-05-31","v":48.4,"lo":46.3,"hi":49.3},{"s":3,"d":"2009-06-01","v":47.7,"lo":46.8,"hi":48.6},{"s":3,"d":"2009-06-02","v":48.0,"lo":47.1,"hi":48.9}
],
"pr":[
{"s":1,"d":"2008-05-11","v":929.0,"lo":926.0,"hi":931.5},{"s":1,"d":"2008-05-13","v":928.9,"lo":924.0,"hi":931.5},{"s":1,"d":"2008-05-14","v":927.5,"lo":922.0,"hi":931.0},{"s":1,"d":"2008-05-16","v":921.9,"lo":915.0,"hi":926.0},{"s":1,"d":"2008-05-17","v":914.1,"lo":911.5,"hi":920.0},{"s":1,"d":"2008-05-18","v":919.0,"lo":914.0,"hi":925.0},{"s":1,"d":"2008-05-20","v":927.5,"lo":923.5,"hi":930.5},{"s":1,"d":"2008-05-22","v":928.9,"lo":925.0,"hi":931.0},{"s":1,"d":"2008-05-23","v":929.6,"lo":925.0,"hi":931.5},{"s":1,"d":"2008-05-25","v":928.2,"lo":924.5,"hi":931.0},{"s":1,"d":"2008-05-27","v":924.0,"lo":922.0,"hi":928.5},{"s":1,"d":"2008-05-28","v":931.0,"lo":926.0,"hi":932.0},{"s":1,"d":"2008-05-30","v":927.5,"lo":923.5,"hi":930.5},{"s":1,"d":"2008-06-01","v":924.0,"lo":922.0,"hi":928.5},{"s":1,"d":"2008-06-02","v":929.6,"lo":925.0,"hi":931.5},{"s":1,"d":"2008-06-04","v":924.0,"lo":922.0,"hi":928.5},{"s":1,"d":"2008-06-06","v":927.5,"lo":923.5,"hi":930.5},{"s":1,"d":"2008-06-07","v":931.0,"lo":925.0,"hi":933.0},{"s":1,"d":"2008-06-09","v":928.9,"lo":924.0,"hi":931.5},{"s":1,"d":"2008-06-10","v":924.0,"lo":922.0,"hi":928.5},{"s":1,"d":"2008-06-11","v":927.5,"lo":924.0,"hi":930.5},{"s":1,"d":"2008-06-13","v":926.8,"lo":923.5,"hi":930.0},{"s":1,"d":"2008-06-15","v":928.2,"lo":925.0,"hi":931.0},{"s":1,"d":"2008-06-16","v":928.9,"lo":925.5,"hi":931.5},{"s":1,"d":"2008-06-18","v":930.3,"lo":927.5,"hi":933.0},{"s":1,"d":"2008-06-20","v":933.8,"lo":930.5,"hi":935.5},{"s":1,"d":"2008-06-22","v":932.4,"lo":930.0,"hi":934.5},{"s":1,"d":"2008-06-24","v":931.3,"lo":929.0,"hi":933.0},
{"s":2,"d":"2008-07-03","v":929.6,"lo":926.5,"hi":932.0},{"s":2,"d":"2008-07-05","v":929.6,"lo":926.0,"hi":932.0},{"s":2,"d":"2008-07-06","v":928.9,"lo":926.0,"hi":931.5},{"s":2,"d":"2008-07-08","v":930.3,"lo":927.0,"hi":932.5},{"s":2,"d":"2008-07-10","v":927.5,"lo":924.5,"hi":930.5},{"s":2,"d":"2008-07-12","v":929.6,"lo":926.0,"hi":933.0},{"s":2,"d":"2008-07-13","v":934.5,"lo":930.0,"hi":937.0},{"s":2,"d":"2008-07-14","v":935.2,"lo":931.0,"hi":938.0},{"s":2,"d":"2008-07-16","v":931.7,"lo":928.0,"hi":934.5},{"s":2,"d":"2008-07-17","v":928.9,"lo":925.5,"hi":932.0},{"s":2,"d":"2008-07-18","v":931.0,"lo":927.0,"hi":933.5},{"s":2,"d":"2008-07-20","v":925.4,"lo":922.5,"hi":929.0},{"s":2,"d":"2008-07-22","v":926.1,"lo":923.0,"hi":929.5},{"s":2,"d":"2008-07-23","v":928.2,"lo":925.0,"hi":931.0},{"s":2,"d":"2008-07-25","v":926.8,"lo":923.5,"hi":930.0},{"s":2,"d":"2008-07-27","v":929.6,"lo":926.5,"hi":932.0},{"s":2,"d":"2008-07-28","v":931.0,"lo":928.0,"hi":933.0},{"s":2,"d":"2008-07-30","v":932.4,"lo":929.5,"hi":935.0},{"s":2,"d":"2008-08-01","v":931.7,"lo":929.0,"hi":934.5},{"s":2,"d":"2008-08-03","v":931.0,"lo":928.0,"hi":933.5},{"s":2,"d":"2008-08-04","v":929.6,"lo":926.5,"hi":932.0},{"s":2,"d":"2008-08-06","v":927.5,"lo":924.0,"hi":930.0},{"s":2,"d":"2008-08-08","v":925.4,"lo":922.5,"hi":928.5},{"s":2,"d":"2008-08-10","v":926.1,"lo":923.0,"hi":929.0},{"s":2,"d":"2008-08-11","v":926.8,"lo":923.5,"hi":929.5},{"s":2,"d":"2008-08-13","v":924.7,"lo":922.0,"hi":928.5},{"s":2,"d":"2008-08-15","v":930.3,"lo":926.5,"hi":932.5},{"s":2,"d":"2008-08-17","v":929.6,"lo":926.0,"hi":932.0},{"s":2,"d":"2008-08-18","v":931.0,"lo":927.5,"hi":933.5},{"s":2,"d":"2008-08-20","v":927.5,"lo":924.5,"hi":930.5},{"s":2,"d":"2008-08-22","v":926.8,"lo":924.0,"hi":930.0},{"s":2,"d":"2008-08-24","v":929.6,"lo":926.5,"hi":932.5},{"s":2,"d":"2008-08-25","v":932.4,"lo":929.5,"hi":935.0},{"s":2,"d":"2008-08-27","v":931.0,"lo":928.5,"hi":933.5},{"s":2,"d":"2008-08-28","v":931.0,"lo":928.5,"hi":933.0},
{"s":3,"d":"2008-09-08","v":931.0,"lo":928.5,"hi":933.5},{"s":3,"d":"2008-09-09","v":930.3,"lo":927.5,"hi":933.0},{"s":3,"d":"2008-09-11","v":924.7,"lo":921.5,"hi":927.5},{"s":3,"d":"2008-09-12","v":921.9,"lo":918.5,"hi":924.5},{"s":3,"d":"2008-09-13","v":921.2,"lo":918.0,"hi":924.0},{"s":3,"d":"2008-09-15","v":928.9,"lo":925.5,"hi":932.0},{"s":3,"d":"2008-09-16","v":933.1,"lo":929.5,"hi":935.5},{"s":3,"d":"2008-09-17","v":927.5,"lo":924.5,"hi":930.5},{"s":3,"d":"2008-09-18","v":926.1,"lo":923.0,"hi":929.0},{"s":3,"d":"2008-09-19","v":924.0,"lo":921.0,"hi":927.0},{"s":3,"d":"2008-09-21","v":922.6,"lo":919.5,"hi":925.5},{"s":3,"d":"2008-09-22","v":921.9,"lo":918.5,"hi":924.5},{"s":3,"d":"2008-09-23","v":924.7,"lo":921.5,"hi":927.5},{"s":3,"d":"2008-09-25","v":929.6,"lo":926.5,"hi":932.5},{"s":3,"d":"2008-09-26","v":931.0,"lo":928.0,"hi":934.0},{"s":3,"d":"2008-09-28","v":928.9,"lo":926.0,"hi":931.5},{"s":3,"d":"2008-09-29","v":926.1,"lo":923.0,"hi":929.0},{"s":3,"d":"2008-09-30","v":925.4,"lo":922.5,"hi":928.0},{"s":3,"d":"2008-10-01","v":925.4,"lo":922.5,"hi":928.0},{"s":3,"d":"2008-10-03","v":928.2,"lo":925.5,"hi":931.0},{"s":3,"d":"2008-10-04","v":931.0,"lo":928.5,"hi":933.5},{"s":3,"d":"2008-10-05","v":933.8,"lo":931.0,"hi":936.5},{"s":3,"d":"2008-10-06","v":932.4,"lo":929.5,"hi":935.0},{"s":3,"d":"2008-10-07","v":934.5,"lo":931.5,"hi":937.5},{"s":3,"d":"2008-10-08","v":938.0,"lo":934.5,"hi":940.5},{"s":3,"d":"2008-10-09","v":941.5,"lo":937.5,"hi":943.5},{"s":3,"d":"2008-10-10","v":941.5,"lo":937.5,"hi":943.5},{"s":3,"d":"2008-10-12","v":934.5,"lo":931.0,"hi":937.5},{"s":3,"d":"2008-10-13","v":932.4,"lo":929.5,"hi":935.0},{"s":3,"d":"2008-10-14","v":933.8,"lo":930.5,"hi":936.5},{"s":3,"d":"2008-10-15","v":928.2,"lo":925.0,"hi":931.0},{"s":3,"d":"2008-10-16","v":931.0,"lo":928.0,"hi":934.0},{"s":3,"d":"2008-10-17","v":936.6,"lo":933.0,"hi":939.0},{"s":3,"d":"2008-10-18","v":933.1,"lo":930.0,"hi":936.0},{"s":3,"d":"2008-10-19","v":931.0,"lo":928.0,"hi":934.0},{"s":3,"d":"2008-10-20","v":929.6,"lo":926.5,"hi":932.5},{"s":3,"d":"2008-10-22","v":933.1,"lo":930.0,"hi":936.0},{"s":3,"d":"2008-10-23","v":935.9,"lo":932.5,"hi":938.0},{"s":3,"d":"2008-10-24","v":934.5,"lo":931.5,"hi":937.0},{"s":3,"d":"2008-10-25","v":931.0,"lo":928.0,"hi":934.0},{"s":3,"d":"2008-10-26","v":926.8,"lo":923.5,"hi":930.0},{"s":3,"d":"2008-10-27","v":924.0,"lo":921.0,"hi":927.0},{"s":3,"d":"2008-10-28","v":923.3,"lo":920.5,"hi":926.5},{"s":3,"d":"2008-10-29","v":927.5,"lo":924.5,"hi":930.5},{"s":3,"d":"2008-10-31","v":929.6,"lo":926.5,"hi":932.5},{"s":3,"d":"2008-11-01","v":928.9,"lo":926.0,"hi":931.5},{"s":3,"d":"2008-11-02","v":931.0,"lo":928.0,"hi":934.0},{"s":3,"d":"2008-11-03","v":928.9,"lo":926.0,"hi":931.5},{"s":3,"d":"2008-11-04","v":926.8,"lo":924.0,"hi":929.5},{"s":3,"d":"2008-11-05","v":926.1,"lo":923.0,"hi":929.0},{"s":3,"d":"2008-11-06","v":931.7,"lo":928.5,"hi":934.5},{"s":3,"d":"2008-11-07","v":937.3,"lo":934.0,"hi":939.5},{"s":3,"d":"2008-11-09","v":938.7,"lo":935.5,"hi":940.5},{"s":3,"d":"2008-11-10","v":935.9,"lo":932.5,"hi":938.5},{"s":3,"d":"2008-11-11","v":931.7,"lo":928.5,"hi":934.5},{"s":3,"d":"2008-11-12","v":927.5,"lo":924.5,"hi":930.5},{"s":3,"d":"2008-11-13","v":926.1,"lo":923.0,"hi":929.0},{"s":3,"d":"2008-11-14","v":928.2,"lo":925.0,"hi":931.0},{"s":3,"d":"2008-11-15","v":927.5,"lo":924.5,"hi":930.5},{"s":3,"d":"2008-11-16","v":924.7,"lo":921.5,"hi":927.5},{"s":3,"d":"2008-11-18","v":926.1,"lo":923.0,"hi":929.0},{"s":3,"d":"2008-11-19","v":924.7,"lo":921.5,"hi":927.5},{"s":3,"d":"2008-11-20","v":920.5,"lo":917.0,"hi":924.0},{"s":3,"d":"2008-11-21","v":909.9,"lo":906.5,"hi":915.0},{"s":3,"d":"2008-11-22","v":918.5,"lo":913.0,"hi":922.0},{"s":3,"d":"2008-11-23","v":916.9,"lo":912.0,"hi":920.0},{"s":3,"d":"2008-11-24","v":914.8,"lo":911.5,"hi":919.0},{"s":3,"d":"2008-11-25","v":923.3,"lo":918.0,"hi":927.0},{"s":3,"d":"2008-11-26","v":931.0,"lo":926.0,"hi":933.5},{"s":3,"d":"2008-11-28","v":920.5,"lo":916.5,"hi":924.0},{"s":3,"d":"2008-11-29","v":923.3,"lo":919.5,"hi":926.5},{"s":3,"d":"2008-11-30","v":920.5,"lo":917.0,"hi":924.0},{"s":3,"d":"2008-12-01","v":914.8,"lo":911.0,"hi":919.0},{"s":3,"d":"2008-12-02","v":910.6,"lo":906.0,"hi":915.0},{"s":3,"d":"2008-12-03","v":918.4,"lo":913.5,"hi":922.0},{"s":3,"d":"2008-12-04","v":924.7,"lo":920.5,"hi":928.0},{"s":3,"d":"2008-12-06","v":926.1,"lo":922.5,"hi":930.0},{"s":3,"d":"2008-12-07","v":933.1,"lo":929.0,"hi":935.5},{"s":3,"d":"2008-12-08","v":926.8,"lo":922.5,"hi":930.0},{"s":3,"d":"2008-12-09","v":920.5,"lo":916.0,"hi":924.0},{"s":3,"d":"2008-12-10","v":911.3,"lo":907.0,"hi":916.0},{"s":3,"d":"2008-12-11","v":916.2,"lo":912.0,"hi":920.0},{"s":3,"d":"2008-12-12","v":921.2,"lo":917.5,"hi":924.5},{"s":3,"d":"2008-12-13","v":921.9,"lo":918.5,"hi":925.0},{"s":3,"d":"2008-12-14","v":920.5,"lo":917.0,"hi":924.0},{"s":3,"d":"2008-12-16","v":917.6,"lo":914.0,"hi":921.0},{"s":3,"d":"2008-12-17","v":916.9,"lo":913.0,"hi":920.5},{"s":3,"d":"2008-12-18","v":924.7,"lo":920.5,"hi":928.0},{"s":3,"d":"2008-12-19","v":927.5,"lo":924.0,"hi":930.5},{"s":3,"d":"2008-12-20","v":932.4,"lo":929.0,"hi":935.0},{"s":3,"d":"2008-12-21","v":934.5,"lo":931.0,"hi":937.0},{"s":3,"d":"2008-12-22","v":932.4,"lo":929.0,"hi":935.0},{"s":3,"d":"2008-12-24","v":926.8,"lo":923.5,"hi":930.0},{"s":3,"d":"2008-12-25","v":926.1,"lo":923.0,"hi":929.0},{"s":3,"d":"2008-12-26","v":931.7,"lo":928.5,"hi":934.5},{"s":3,"d":"2008-12-27","v":935.9,"lo":932.5,"hi":938.5},{"s":3,"d":"2008-12-28","v":938.0,"lo":934.5,"hi":940.5},{"s":3,"d":"2008-12-30","v":938.7,"lo":935.0,"hi":941.0},{"s":3,"d":"2008-12-31","v":934.5,"lo":931.0,"hi":937.0},{"s":3,"d":"2009-01-01","v":924.7,"lo":921.0,"hi":928.0},{"s":3,"d":"2009-01-02","v":919.1,"lo":915.5,"hi":922.5},{"s":3,"d":"2009-01-04","v":918.4,"lo":915.0,"hi":922.0},{"s":3,"d":"2009-01-05","v":920.5,"lo":917.5,"hi":924.0},{"s":3,"d":"2009-01-06","v":925.5,"lo":922.0,"hi":929.0},{"s":3,"d":"2009-01-08","v":929.6,"lo":926.5,"hi":932.5},{"s":3,"d":"2009-01-09","v":932.4,"lo":929.5,"hi":935.0},{"s":3,"d":"2009-01-11","v":931.0,"lo":928.0,"hi":934.0},{"s":3,"d":"2009-01-12","v":914.8,"lo":911.0,"hi":919.0},{"s":3,"d":"2009-01-13","v":921.9,"lo":918.0,"hi":925.0},{"s":3,"d":"2009-01-14","v":927.5,"lo":924.0,"hi":930.5},{"s":3,"d":"2009-01-15","v":935.2,"lo":931.5,"hi":937.5},{"s":3,"d":"2009-01-17","v":933.1,"lo":929.5,"hi":936.0},{"s":3,"d":"2009-01-18","v":926.1,"lo":922.5,"hi":929.5},{"s":3,"d":"2009-01-19","v":920.5,"lo":917.0,"hi":924.0},{"s":3,"d":"2009-01-20","v":913.4,"lo":909.5,"hi":917.0},{"s":3,"d":"2009-01-22","v":907.8,"lo":904.5,"hi":912.0},{"s":3,"d":"2009-01-23","v":902.9,"lo":900.5,"hi":907.0},{"s":3,"d":"2009-01-24","v":909.2,"lo":905.5,"hi":913.0},{"s":3,"d":"2009-01-25","v":913.4,"lo":909.0,"hi":917.0},{"s":3,"d":"2009-01-26","v":910.6,"lo":907.0,"hi":914.0},{"s":3,"d":"2009-01-28","v":916.2,"lo":912.5,"hi":920.0},{"s":3,"d":"2009-01-29","v":920.5,"lo":917.0,"hi":924.0},{"s":3,"d":"2009-01-30","v":917.6,"lo":914.0,"hi":921.0},{"s":3,"d":"2009-01-31","v":914.8,"lo":911.0,"hi":918.5},{"s":3,"d":"2009-02-01","v":918.4,"lo":914.5,"hi":922.0},{"s":3,"d":"2009-02-02","v":912.0,"lo":908.5,"hi":916.0},{"s":3,"d":"2009-02-04","v":920.5,"lo":916.5,"hi":924.0},{"s":3,"d":"2009-02-05","v":914.8,"lo":911.0,"hi":918.5},{"s":3,"d":"2009-02-06","v":906.4,"lo":903.5,"hi":910.5},{"s":3,"d":"2009-02-07","v":912.0,"lo":908.0,"hi":916.0},{"s":3,"d":"2009-02-08","v":923.3,"lo":919.0,"hi":926.5},{"s":3,"d":"2009-02-09","v":919.1,"lo":915.5,"hi":922.5},{"s":3,"d":"2009-02-10","v":912.0,"lo":908.5,"hi":916.0},{"s":3,"d":"2009-02-11","v":914.8,"lo":911.0,"hi":918.5},{"s":3,"d":"2009-02-12","v":920.5,"lo":917.0,"hi":924.0},{"s":3,"d":"2009-02-14","v":926.1,"lo":922.5,"hi":929.5},{"s":3,"d":"2009-02-15","v":928.9,"lo":925.5,"hi":932.0},{"s":3,"d":"2009-02-16","v":923.3,"lo":919.5,"hi":926.5},{"s":3,"d":"2009-02-17","v":916.2,"lo":912.5,"hi":920.0},{"s":3,"d":"2009-02-18","v":924.7,"lo":921.0,"hi":928.0},{"s":3,"d":"2009-02-19","v":930.3,"lo":927.0,"hi":933.0},{"s":3,"d":"2009-02-20","v":927.5,"lo":924.0,"hi":930.5},{"s":3,"d":"2009-02-21","v":924.7,"lo":921.0,"hi":928.0},{"s":3,"d":"2009-02-23","v":919.8,"lo":916.0,"hi":923.5},{"s":3,"d":"2009-02-24","v":926.1,"lo":922.5,"hi":929.5},{"s":3,"d":"2009-02-25","v":929.6,"lo":926.5,"hi":932.5},{"s":3,"d":"2009-02-26","v":927.5,"lo":924.5,"hi":930.5},{"s":3,"d":"2009-02-27","v":930.3,"lo":927.5,"hi":933.0},{"s":3,"d":"2009-02-28","v":928.2,"lo":925.0,"hi":931.0},{"s":3,"d":"2009-03-01","v":923.3,"lo":919.5,"hi":926.5},{"s":3,"d":"2009-03-02","v":910.6,"lo":906.0,"hi":916.0},{"s":3,"d":"2009-03-03","v":901.5,"lo":900.0,"hi":906.0},{"s":3,"d":"2009-03-05","v":901.5,"lo":900.0,"hi":906.0},{"s":3,"d":"2009-03-06","v":903.6,"lo":901.0,"hi":908.0},{"s":3,"d":"2009-03-07","v":916.2,"lo":911.0,"hi":920.0},{"s":3,"d":"2009-03-08","v":924.7,"lo":921.0,"hi":928.0},{"s":3,"d":"2009-03-09","v":928.9,"lo":925.5,"hi":932.0},{"s":3,"d":"2009-03-10","v":922.6,"lo":919.0,"hi":926.0},{"s":3,"d":"2009-03-11","v":930.3,"lo":927.0,"hi":933.0},{"s":3,"d":"2009-03-12","v":931.0,"lo":928.0,"hi":934.0},{"s":3,"d":"2009-03-14","v":930.3,"lo":927.5,"hi":933.0},{"s":3,"d":"2009-03-15","v":933.1,"lo":930.0,"hi":936.0},{"s":3,"d":"2009-03-16","v":931.0,"lo":928.0,"hi":934.0},{"s":3,"d":"2009-03-17","v":927.5,"lo":924.5,"hi":930.5},{"s":3,"d":"2009-03-18","v":921.9,"lo":918.0,"hi":925.5},{"s":3,"d":"2009-03-19","v":915.5,"lo":912.0,"hi":919.5},{"s":3,"d":"2009-03-20","v":921.9,"lo":918.0,"hi":925.5},{"s":3,"d":"2009-03-21","v":924.7,"lo":921.0,"hi":928.0},{"s":3,"d":"2009-03-23","v":916.2,"lo":912.5,"hi":920.0},{"s":3,"d":"2009-03-24","v":914.1,"lo":911.0,"hi":918.0},{"s":3,"d":"2009-03-25","v":921.9,"lo":918.5,"hi":925.0},{"s":3,"d":"2009-03-26","v":924.7,"lo":921.5,"hi":927.5},{"s":3,"d":"2009-03-27","v":920.5,"lo":917.0,"hi":924.0},{"s":3,"d":"2009-03-28","v":923.3,"lo":920.0,"hi":926.5},{"s":3,"d":"2009-03-29","v":924.0,"lo":920.5,"hi":927.0},{"s":3,"d":"2009-03-30","v":921.9,"lo":918.5,"hi":925.0},{"s":3,"d":"2009-04-01","v":924.7,"lo":921.5,"hi":927.5},{"s":3,"d":"2009-04-02","v":928.9,"lo":925.5,"hi":932.0},{"s":3,"d":"2009-04-03","v":929.6,"lo":926.5,"hi":932.5},{"s":3,"d":"2009-04-05","v":927.5,"lo":924.5,"hi":930.5},{"s":3,"d":"2009-04-06","v":928.9,"lo":925.5,"hi":932.0},{"s":3,"d":"2009-04-07","v":926.1,"lo":923.0,"hi":929.0},{"s":3,"d":"2009-04-09","v":922.6,"lo":919.0,"hi":926.0},{"s":3,"d":"2009-04-10","v":916.2,"lo":912.0,"hi":920.0},{"s":3,"d":"2009-04-11","v":906.4,"lo":904.0,"hi":911.0},{"s":3,"d":"2009-04-12","v":914.8,"lo":910.5,"hi":919.0},{"s":3,"d":"2009-04-13","v":923.3,"lo":919.5,"hi":926.5},{"s":3,"d":"2009-04-15","v":928.2,"lo":925.0,"hi":931.0},{"s":3,"d":"2009-04-16","v":926.8,"lo":923.5,"hi":930.0},{"s":3,"d":"2009-04-17","v":926.1,"lo":923.0,"hi":929.0},{"s":3,"d":"2009-04-18","v":924.7,"lo":921.5,"hi":927.5},{"s":3,"d":"2009-04-19","v":918.4,"lo":915.0,"hi":922.0},{"s":3,"d":"2009-04-20","v":915.5,"lo":912.0,"hi":919.0},{"s":3,"d":"2009-04-21","v":921.9,"lo":918.5,"hi":925.0},{"s":3,"d":"2009-04-22","v":928.2,"lo":925.0,"hi":931.0},{"s":3,"d":"2009-04-24","v":930.3,"lo":927.0,"hi":933.0},{"s":3,"d":"2009-04-25","v":926.1,"lo":923.0,"hi":929.0},{"s":3,"d":"2009-04-26","v":919.1,"lo":915.5,"hi":922.5},{"s":3,"d":"2009-04-27","v":923.3,"lo":920.0,"hi":926.5},{"s":3,"d":"2009-04-28","v":924.7,"lo":921.5,"hi":927.5},{"s":3,"d":"2009-04-29","v":922.6,"lo":919.5,"hi":925.5},{"s":3,"d":"2009-04-30","v":926.8,"lo":923.5,"hi":929.5},{"s":3,"d":"2009-05-01","v":926.1,"lo":923.0,"hi":929.0},{"s":3,"d":"2009-05-04","v":930.3,"lo":927.0,"hi":933.0},{"s":3,"d":"2009-05-05","v":932.4,"lo":929.0,"hi":935.0},{"s":3,"d":"2009-05-07","v":935.2,"lo":932.0,"hi":937.5},{"s":3,"d":"2009-05-09","v":933.1,"lo":930.0,"hi":936.0},{"s":3,"d":"2009-05-10","v":932.4,"lo":929.0,"hi":935.0},{"s":3,"d":"2009-05-12","v":927.5,"lo":924.0,"hi":930.5},{"s":3,"d":"2009-05-14","v":919.8,"lo":916.5,"hi":923.5},{"s":3,"d":"2009-05-15","v":924.7,"lo":921.0,"hi":928.0},{"s":3,"d":"2009-05-16","v":930.3,"lo":927.0,"hi":933.0},{"s":3,"d":"2009-05-17","v":931.7,"lo":928.5,"hi":934.5},{"s":3,"d":"2009-05-19","v":932.4,"lo":929.0,"hi":935.0},{"s":3,"d":"2009-05-20","v":933.8,"lo":930.5,"hi":936.5},{"s":3,"d":"2009-05-22","v":935.2,"lo":932.0,"hi":937.5},{"s":3,"d":"2009-05-23","v":933.8,"lo":930.5,"hi":936.5},{"s":3,"d":"2009-05-24","v":931.0,"lo":928.0,"hi":934.0},{"s":3,"d":"2009-05-25","v":929.6,"lo":926.5,"hi":932.5},{"s":3,"d":"2009-05-27","v":931.7,"lo":928.5,"hi":934.5},{"s":3,"d":"2009-05-28","v":931.0,"lo":928.0,"hi":934.0},{"s":3,"d":"2009-05-30","v":927.5,"lo":924.5,"hi":930.5},{"s":3,"d":"2009-05-31","v":923.3,"lo":920.5,"hi":926.5},{"s":3,"d":"2009-06-01","v":922.6,"lo":920.0,"hi":925.5},{"s":3,"d":"2009-06-02","v":922.0,"lo":919.5,"hi":925.0}
],
"prOut":[{"d":"2009-03-25","v":932.0},{"d":"2008-07-14","v":939.8},{"d":"2008-12-07","v":937.0},{"d":"2008-10-31","v":935.9},{"d":"2008-06-07","v":935.2},{"d":"2008-08-01","v":936.2}],
"gaps":[{"p":"a","g":1,"d":"2008-06-23","v":0.97},{"p":"a","g":1,"d":"2008-07-03","v":0.97},{"p":"a","g":2,"d":"2008-08-28","v":0.94},{"p":"a","g":2,"d":"2008-09-07","v":0.94},{"p":"b","g":1,"d":"2008-06-23","v":47.6},{"p":"b","g":1,"d":"2008-07-03","v":47.6},{"p":"b","g":2,"d":"2008-08-28","v":47.5},{"p":"b","g":2,"d":"2008-09-08","v":47.5},{"p":"c","g":1,"d":"2008-06-24","v":931.1},{"p":"c","g":1,"d":"2008-07-03","v":931.1},{"p":"c","g":2,"d":"2008-08-28","v":931.0},{"p":"c","g":2,"d":"2008-09-08","v":931.0}],
"labels":[{"p":"a","k":"t","d":"2008-05-15","v":2.476,"txt":"PZZ - ²²²Rn Concentration"},{"p":"a","k":"l","d":"2009-05-26","v":2.46,"txt":"a"},{"p":"b","k":"t","d":"2008-05-22","v":19.1,"txt":"PZZ - Soil Temperature"},{"p":"b","k":"l","d":"2009-05-26","v":18.65,"txt":"b"},{"p":"c","k":"t","d":"2008-05-19","v":897.8,"txt":"PZZ - Air Pressure"},{"p":"c","k":"l","d":"2009-05-29","v":894.8,"txt":"c"}]
},
"vconcat":[
{"width":1157,"height":332,
"resolve":{"axis":{"x":"independent","y":"independent"}},
"layer":[
{"data":{"name":"rn"},"mark":{"type":"area","color":"#858585"},
"encoding":{"x":{"field":"d","type":"temporal","scale":{"type":"utc","domain":[{"year":2008,"month":5,"date":10,"utc":true},{"year":2009,"month":6,"date":3,"utc":true}]},"axis":{"orient":"bottom","values":[{"year":2008,"month":5,"date":20,"utc":true},{"year":2008,"month":7,"date":9,"utc":true},{"year":2008,"month":8,"date":28,"utc":true},{"year":2008,"month":10,"date":17,"utc":true},{"year":2008,"month":12,"date":6,"utc":true},{"year":2009,"month":1,"date":25,"utc":true},{"year":2009,"month":3,"date":16,"utc":true},{"year":2009,"month":5,"date":5,"utc":true}],"format":"%b%y","labelOffset":-15,"labelPadding":56,"labelBaseline":"alphabetic","title":null}},
"y":{"field":"lo","type":"quantitative","scale":{"domain":[0,3],"nice":false,"zero":false},"axis":{"orient":"left","values":[0,1,2,3],"labelPadding":19,"title":"Bq/m³ (*10⁴)","titleFont":"Liberation Sans","titleFontWeight":"bold","titleFontSize":42,"titleAngle":270,"titleAlign":"center","titleBaseline":"alphabetic","titleX":-76,"titleY":144}},
"y2":{"field":"hi"},"detail":{"field":"s"}}},
{"data":{"name":"rn"},"mark":{"type":"line","color":"#858585","strokeWidth":14,"strokeJoin":"round","strokeCap":"round"},
"encoding":{"x":{"field":"d","type":"temporal","scale":{"type":"utc"},"axis":null},"y":{"field":"v","type":"quantitative","scale":{"domain":[0,3],"nice":false,"zero":false},"axis":null},"detail":{"field":"s"}}},
{"data":{"name":"rn"},"transform":[{"fold":["lo","hi"],"as":["k","val"]}],"mark":{"type":"point","shape":"circle","filled":false,"size":160,"stroke":"#808080","strokeWidth":1.5,"opacity":1},
"encoding":{"x":{"field":"d","type":"temporal","scale":{"type":"utc","domain":[{"year":2008,"month":5,"date":10,"utc":true},{"year":2009,"month":6,"date":3,"utc":true}]},"axis":{"orient":"top","values":[{"year":2008,"month":5,"date":20,"utc":true},{"year":2008,"month":7,"date":9,"utc":true},{"year":2008,"month":8,"date":28,"utc":true},{"year":2008,"month":10,"date":17,"utc":true},{"year":2008,"month":12,"date":6,"utc":true},{"year":2009,"month":1,"date":25,"utc":true},{"year":2009,"month":3,"date":16,"utc":true},{"year":2009,"month":5,"date":5,"utc":true}],"labels":false,"title":null}},
"y":{"field":"val","type":"quantitative","scale":{"domain":[0,3],"nice":false,"zero":false},"axis":{"orient":"right","values":[0,1,2,3],"labels":false,"title":null}}}},
{"data":{"name":"rnOut"},"mark":{"type":"point","shape":"circle","filled":false,"size":160,"stroke":"#808080","strokeWidth":1.5,"opacity":1},
"encoding":{"x":{"field":"d","type":"temporal","scale":{"type":"utc"},"axis":null},"y":{"field":"v","type":"quantitative","scale":{"domain":[0,3],"nice":false,"zero":false},"axis":null}}},
{"data":{"name":"rn"},"mark":{"type":"line","color":"black","strokeWidth":5.5,"strokeJoin":"round","strokeCap":"round"},
"encoding":{"x":{"field":"d","type":"temporal","scale":{"type":"utc"},"axis":null},"y":{"field":"v","type":"quantitative","scale":{"domain":[0,3],"nice":false,"zero":false},"axis":null},"detail":{"field":"s"}}},
{"data":{"name":"gaps"},"transform":[{"filter":"datum.p == 'a'"}],"mark":{"type":"line","color":"black","strokeWidth":5,"strokeDash":[6,5]},
"encoding":{"x":{"field":"d","type":"temporal","scale":{"type":"utc"},"axis":null},"y":{"field":"v","type":"quantitative","scale":{"domain":[0,3],"nice":false,"zero":false},"axis":null},"detail":{"field":"g"}}},
{"data":{"name":"labels"},"transform":[{"filter":"datum.p == 'a' && datum.k == 't'"}],"mark":{"type":"text","font":"Liberation Serif","fontStyle":"italic","fontWeight":"bold","fontSize":45,"align":"left","baseline":"alphabetic","color":"black"},
"encoding":{"x":{"field":"d","type":"temporal","scale":{"type":"utc"},"axis":null},"y":{"field":"v","type":"quantitative","scale":{"domain":[0,3],"nice":false,"zero":false},"axis":null},"text":{"field":"txt"}}},
{"data":{"name":"labels"},"transform":[{"filter":"datum.p == 'a' && datum.k == 'l'"}],"mark":{"type":"text","font":"Liberation Sans","fontSize":72,"align":"right","baseline":"alphabetic","color":"black"},
"encoding":{"x":{"field":"d","type":"temporal","scale":{"type":"utc"},"axis":null},"y":{"field":"v","type":"quantitative","scale":{"domain":[0,3],"nice":false,"zero":false},"axis":null},"text":{"field":"txt"}}}
]},
{"width":1157,"height":333,
"resolve":{"axis":{"x":"independent","y":"independent"}},
"layer":[
{"data":{"name":"tp"},"mark":{"type":"area","color":"#858585"},
"encoding":{"x":{"field":"d","type":"temporal","scale":{"type":"utc","domain":[{"year":2008,"month":5,"date":10,"utc":true},{"year":2009,"month":6,"date":3,"utc":true}]},"axis":{"orient":"bottom","values":[{"year":2008,"month":5,"date":20,"utc":true},{"year":2008,"month":7,"date":9,"utc":true},{"year":2008,"month":8,"date":28,"utc":true},{"year":2008,"month":10,"date":17,"utc":true},{"year":2008,"month":12,"date":6,"utc":true},{"year":2009,"month":1,"date":25,"utc":true},{"year":2009,"month":3,"date":16,"utc":true},{"year":2009,"month":5,"date":5,"utc":true}],"format":"%b%y","labelOffset":-15,"labelPadding":53,"labelBaseline":"alphabetic","title":null}},
"y":{"field":"lo","type":"quantitative","scale":{"domain":[15,65],"nice":false,"zero":false},"axis":{"orient":"left","values":[20,30,40,50,60],"labelPadding":21,"title":"°C","titleFont":"Liberation Sans","titleFontWeight":"bold","titleFontSize":42,"titleAngle":270,"titleAlign":"center","titleBaseline":"alphabetic","titleX":-84,"titleY":192}},
"y2":{"field":"hi"},"detail":{"field":"s"}}},
{"data":{"name":"tp"},"mark":{"type":"line","color":"#858585","strokeWidth":20,"strokeJoin":"round","strokeCap":"round"},
"encoding":{"x":{"field":"d","type":"temporal","scale":{"type":"utc"},"axis":null},"y":{"field":"v","type":"quantitative","scale":{"domain":[15,65],"nice":false,"zero":false},"axis":null},"detail":{"field":"s"}}},
{"data":{"name":"tp"},"transform":[{"fold":["lo","hi"],"as":["k","val"]}],"mark":{"type":"point","shape":"circle","filled":false,"size":160,"stroke":"#808080","strokeWidth":1.5,"opacity":1},
"encoding":{"x":{"field":"d","type":"temporal","scale":{"type":"utc","domain":[{"year":2008,"month":5,"date":10,"utc":true},{"year":2009,"month":6,"date":3,"utc":true}]},"axis":{"orient":"top","values":[{"year":2008,"month":5,"date":20,"utc":true},{"year":2008,"month":7,"date":9,"utc":true},{"year":2008,"month":8,"date":28,"utc":true},{"year":2008,"month":10,"date":17,"utc":true},{"year":2008,"month":12,"date":6,"utc":true},{"year":2009,"month":1,"date":25,"utc":true},{"year":2009,"month":3,"date":16,"utc":true},{"year":2009,"month":5,"date":5,"utc":true}],"labels":false,"title":null}},
"y":{"field":"val","type":"quantitative","scale":{"domain":[15,65],"nice":false,"zero":false},"axis":{"orient":"right","values":[20,30,40,50,60],"labels":false,"title":null}}}},
{"data":{"name":"tp"},"mark":{"type":"line","color":"black","strokeWidth":5.5,"strokeJoin":"round","strokeCap":"round"},
"encoding":{"x":{"field":"d","type":"temporal","scale":{"type":"utc"},"axis":null},"y":{"field":"v","type":"quantitative","scale":{"domain":[15,65],"nice":false,"zero":false},"axis":null},"detail":{"field":"s"}}},
{"data":{"name":"gaps"},"transform":[{"filter":"datum.p == 'b'"}],"mark":{"type":"line","color":"black","strokeWidth":5,"strokeDash":[6,5]},
"encoding":{"x":{"field":"d","type":"temporal","scale":{"type":"utc"},"axis":null},"y":{"field":"v","type":"quantitative","scale":{"domain":[15,65],"nice":false,"zero":false},"axis":null},"detail":{"field":"g"}}},
{"data":{"name":"labels"},"transform":[{"filter":"datum.p == 'b' && datum.k == 't'"}],"mark":{"type":"text","font":"Liberation Serif","fontStyle":"italic","fontWeight":"bold","fontSize":47,"align":"left","baseline":"alphabetic","color":"black"},
"encoding":{"x":{"field":"d","type":"temporal","scale":{"type":"utc"},"axis":null},"y":{"field":"v","type":"quantitative","scale":{"domain":[15,65],"nice":false,"zero":false},"axis":null},"text":{"field":"txt"}}},
{"data":{"name":"labels"},"transform":[{"filter":"datum.p == 'b' && datum.k == 'l'"}],"mark":{"type":"text","font":"Liberation Sans","fontSize":72,"align":"right","baseline":"alphabetic","color":"black"},
"encoding":{"x":{"field":"d","type":"temporal","scale":{"type":"utc"},"axis":null},"y":{"field":"v","type":"quantitative","scale":{"domain":[15,65],"nice":false,"zero":false},"axis":null},"text":{"field":"txt"}}}
]},
{"width":1157,"height":331,
"resolve":{"axis":{"x":"independent","y":"independent"}},
"layer":[
{"data":{"name":"pr"},"mark":{"type":"area","color":"#858585"},
"encoding":{"x":{"field":"d","type":"temporal","scale":{"type":"utc","domain":[{"year":2008,"month":5,"date":10,"utc":true},{"year":2009,"month":6,"date":3,"utc":true}]},"axis":{"orient":"bottom","values":[{"year":2008,"month":5,"date":20,"utc":true},{"year":2008,"month":7,"date":9,"utc":true},{"year":2008,"month":8,"date":28,"utc":true},{"year":2008,"month":10,"date":17,"utc":true},{"year":2008,"month":12,"date":6,"utc":true},{"year":2009,"month":1,"date":25,"utc":true},{"year":2009,"month":3,"date":16,"utc":true},{"year":2009,"month":5,"date":5,"utc":true}],"format":"%b%y","labelOffset":-15,"labelPadding":52,"labelBaseline":"alphabetic","title":null}},
"y":{"field":"lo","type":"quantitative","scale":{"domain":[890,960],"nice":false,"zero":false},"axis":{"orient":"left","values":[890,910,930,950],"labelPadding":17,"title":"mBar","titleFont":"Liberation Sans","titleFontWeight":"bold","titleFontSize":42,"titleAngle":270,"titleAlign":"center","titleBaseline":"alphabetic","titleX":-92,"titleY":171}},
"y2":{"field":"hi"},"detail":{"field":"s"}}},
{"data":{"name":"pr"},"mark":{"type":"line","color":"#858585","strokeWidth":22,"strokeJoin":"round","strokeCap":"round"},
"encoding":{"x":{"field":"d","type":"temporal","scale":{"type":"utc"},"axis":null},"y":{"field":"v","type":"quantitative","scale":{"domain":[890,960],"nice":false,"zero":false},"axis":null},"detail":{"field":"s"}}},
{"data":{"name":"pr"},"transform":[{"fold":["lo","hi"],"as":["k","val"]}],"mark":{"type":"point","shape":"circle","filled":false,"size":160,"stroke":"#808080","strokeWidth":1.5,"opacity":1},
"encoding":{"x":{"field":"d","type":"temporal","scale":{"type":"utc","domain":[{"year":2008,"month":5,"date":10,"utc":true},{"year":2009,"month":6,"date":3,"utc":true}]},"axis":{"orient":"top","values":[{"year":2008,"month":5,"date":20,"utc":true},{"year":2008,"month":7,"date":9,"utc":true},{"year":2008,"month":8,"date":28,"utc":true},{"year":2008,"month":10,"date":17,"utc":true},{"year":2008,"month":12,"date":6,"utc":true},{"year":2009,"month":1,"date":25,"utc":true},{"year":2009,"month":3,"date":16,"utc":true},{"year":2009,"month":5,"date":5,"utc":true}],"labels":false,"title":null}},
"y":{"field":"val","type":"quantitative","scale":{"domain":[890,960],"nice":false,"zero":false},"axis":{"orient":"right","values":[890,910,930,950],"labels":false,"title":null}}}},
{"data":{"name":"prOut"},"mark":{"type":"point","shape":"circle","filled":false,"size":160,"stroke":"#808080","strokeWidth":1.5,"opacity":1},
"encoding":{"x":{"field":"d","type":"temporal","scale":{"type":"utc"},"axis":null},"y":{"field":"v","type":"quantitative","scale":{"domain":[890,960],"nice":false,"zero":false},"axis":null}}},
{"data":{"name":"pr"},"mark":{"type":"line","color":"black","strokeWidth":5.5,"strokeJoin":"round","strokeCap":"round"},
"encoding":{"x":{"field":"d","type":"temporal","scale":{"type":"utc"},"axis":null},"y":{"field":"v","type":"quantitative","scale":{"domain":[890,960],"nice":false,"zero":false},"axis":null},"detail":{"field":"s"}}},
{"data":{"name":"gaps"},"transform":[{"filter":"datum.p == 'c'"}],"mark":{"type":"line","color":"black","strokeWidth":5,"strokeDash":[6,5]},
"encoding":{"x":{"field":"d","type":"temporal","scale":{"type":"utc"},"axis":null},"y":{"field":"v","type":"quantitative","scale":{"domain":[890,960],"nice":false,"zero":false},"axis":null},"detail":{"field":"g"}}},
{"data":{"name":"labels"},"transform":[{"filter":"datum.p == 'c' && datum.k == 't'"}],"mark":{"type":"text","font":"Liberation Serif","fontStyle":"italic","fontWeight":"bold","fontSize":47,"align":"left","baseline":"alphabetic","color":"black"},
"encoding":{"x":{"field":"d","type":"temporal","scale":{"type":"utc"},"axis":null},"y":{"field":"v","type":"quantitative","scale":{"domain":[890,960],"nice":false,"zero":false},"axis":null},"text":{"field":"txt"}}},
{"data":{"name":"labels"},"transform":[{"filter":"datum.p == 'c' && datum.k == 'l'"}],"mark":{"type":"text","font":"Liberation Sans","fontSize":72,"align":"right","baseline":"alphabetic","color":"black"},
"encoding":{"x":{"field":"d","type":"temporal","scale":{"type":"utc"},"axis":null},"y":{"field":"v","type":"quantitative","scale":{"domain":[890,960],"nice":false,"zero":false},"axis":null},"text":{"field":"txt"}}}
]}
]
}
